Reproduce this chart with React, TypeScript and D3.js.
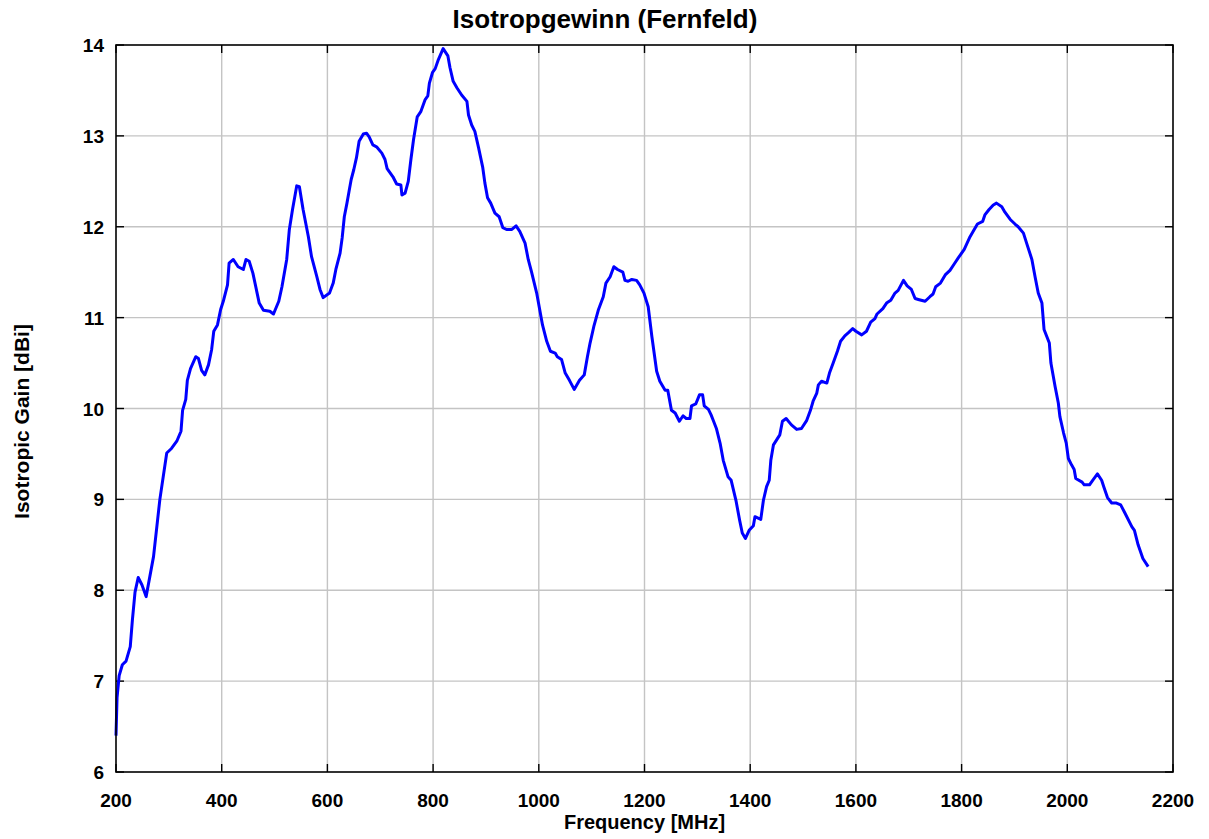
import React from 'react';
import * as d3 from 'd3';

const freqMHz = [
  200, 202, 206, 212, 219, 227, 231, 236, 242, 249, 257, 271, 283, 296, 305, 315, 323, 326, 332, 335,
  341, 351, 356, 362, 368, 375, 381, 385, 392, 398, 403, 411, 414, 422, 431, 441, 446, 452, 459, 471,
  479, 491, 498, 508, 514, 523, 528, 534, 542, 547, 554, 564, 570, 580, 586, 592, 604, 611, 616, 624,
  628, 632, 637, 641, 645, 650, 655, 660, 668, 674, 679, 686, 693, 703, 709, 713, 724, 731, 739, 741,
  747, 753, 758, 763, 770, 777, 785, 790, 793, 799, 804, 810, 819, 828, 832, 838, 845, 854, 864, 867,
  873, 879, 886, 894, 898, 903, 909, 917, 925, 932, 939, 949, 957, 964, 974, 980, 986, 996, 1007, 1015,
  1022, 1031, 1035, 1043, 1050, 1058, 1067, 1077, 1086, 1092, 1097, 1104, 1113, 1122, 1127, 1135, 1142, 1149, 1159, 1163,
  1169, 1176, 1185, 1191, 1199, 1207, 1214, 1223, 1229, 1239, 1244, 1251, 1258, 1266, 1273, 1279, 1286, 1289, 1297, 1304,
  1310, 1313, 1321, 1326, 1330, 1336, 1343, 1349, 1358, 1364, 1373, 1380, 1385, 1391, 1398, 1406, 1409, 1420, 1425, 1431,
  1436, 1439, 1444, 1456, 1461, 1468, 1478, 1488, 1497, 1507, 1514, 1519, 1526, 1529, 1535, 1545, 1550, 1557, 1565, 1571,
  1579, 1587, 1594, 1600, 1611, 1620, 1628, 1636, 1640, 1651, 1658, 1666, 1674, 1680, 1690, 1697, 1705, 1712, 1718, 1731,
  1740, 1746, 1751, 1760, 1769, 1778, 1786, 1794, 1805, 1816, 1822, 1830, 1840, 1844, 1852, 1860, 1866, 1876, 1882, 1892,
  1901, 1907, 1917, 1923, 1933, 1939, 1945, 1952, 1956, 1966, 1969, 1977, 1983, 1986, 1993, 1998, 2002, 2008, 2013, 2016,
  2028, 2032, 2042, 2048, 2057, 2065, 2069, 2076, 2084, 2093, 2101, 2109, 2122, 2127, 2134, 2143, 2153,
];

const gainDbi = [
  6.40, 6.82, 7.06, 7.18, 7.22, 7.38, 7.67, 7.98, 8.14, 8.06, 7.93, 8.37, 9.00, 9.51, 9.56, 9.64, 9.75, 9.98, 10.10, 10.31,
  10.44, 10.57, 10.55, 10.42, 10.37, 10.48, 10.65, 10.85, 10.92, 11.09, 11.18, 11.36, 11.60, 11.64, 11.56, 11.53, 11.64, 11.62, 11.49, 11.16,
  11.08, 11.07, 11.04, 11.18, 11.34, 11.64, 11.97, 12.19, 12.45, 12.44, 12.19, 11.89, 11.67, 11.45, 11.31, 11.22, 11.27, 11.38, 11.53, 11.71,
  11.88, 12.11, 12.26, 12.39, 12.52, 12.63, 12.76, 12.94, 13.02, 13.03, 12.99, 12.90, 12.88, 12.81, 12.74, 12.64, 12.55, 12.47, 12.46, 12.35,
  12.37, 12.50, 12.74, 12.96, 13.21, 13.27, 13.40, 13.44, 13.58, 13.70, 13.74, 13.84, 13.96, 13.88, 13.75, 13.60, 13.53, 13.45, 13.38, 13.23,
  13.12, 13.05, 12.87, 12.65, 12.48, 12.32, 12.26, 12.15, 12.11, 11.99, 11.97, 11.97, 12.01, 11.95, 11.82, 11.64, 11.51, 11.27, 10.92, 10.74,
  10.63, 10.61, 10.57, 10.54, 10.39, 10.31, 10.21, 10.31, 10.37, 10.57, 10.72, 10.90, 11.09, 11.23, 11.38, 11.45, 11.56, 11.53, 11.50, 11.41,
  11.40, 11.42, 11.41, 11.36, 11.27, 11.12, 10.79, 10.41, 10.30, 10.20, 10.20, 9.98, 9.95, 9.86, 9.92, 9.89, 9.89, 10.03, 10.05, 10.15,
  10.15, 10.03, 9.99, 9.93, 9.87, 9.78, 9.62, 9.43, 9.25, 9.21, 8.99, 8.77, 8.63, 8.57, 8.66, 8.71, 8.81, 8.78, 8.99, 9.14,
  9.21, 9.43, 9.60, 9.71, 9.86, 9.89, 9.82, 9.77, 9.78, 9.87, 9.98, 10.08, 10.17, 10.26, 10.30, 10.28, 10.39, 10.50, 10.63, 10.74,
  10.80, 10.84, 10.88, 10.85, 10.81, 10.85, 10.95, 10.99, 11.04, 11.10, 11.16, 11.19, 11.27, 11.30, 11.41, 11.35, 11.31, 11.21, 11.20, 11.18,
  11.23, 11.26, 11.34, 11.38, 11.47, 11.52, 11.59, 11.66, 11.75, 11.89, 11.95, 12.03, 12.06, 12.13, 12.19, 12.24, 12.26, 12.22, 12.16, 12.08,
  12.03, 12.00, 11.93, 11.82, 11.64, 11.45, 11.27, 11.16, 10.87, 10.72, 10.50, 10.24, 10.06, 9.91, 9.73, 9.62, 9.45, 9.38, 9.33, 9.23,
  9.19, 9.16, 9.16, 9.21, 9.28, 9.21, 9.14, 9.02, 8.96, 8.96, 8.94, 8.85, 8.70, 8.66, 8.50, 8.35, 8.26,
];

const xTicks = [200, 400, 600, 800, 1000, 1200, 1400, 1600, 1800, 2000, 2200];
const yTicks = [6, 7, 8, 9, 10, 11, 12, 13, 14];

const title = 'Isotropgewinn (Fernfeld)';
const xLabel = 'Frequency [MHz]';
const yLabel = 'Isotropic Gain [dBi]';

const W = 1209;
const H = 839;
const margin = { top: 45, right: 36, bottom: 67, left: 116 };
const font = '"Liberation Sans", Arial, Helvetica, sans-serif';

export default function App() {
  const x = d3.scaleLinear().domain([200, 2200]).range([margin.left, W - margin.right]);
  const y = d3.scaleLinear().domain([6, 14]).range([H - margin.bottom, margin.top]);

  const pts: [number, number][] = freqMHz.map((f, i) => [f, gainDbi[i]]);
  const line = d3.line<[number, number]>()
    .x(d => x(d[0]))
    .y(d => y(d[1]));

  const x0 = x(200), x1 = x(2200), y0 = y(6), y1 = y(14);
  const tick = 8;

  return (
    <svg width={W} height={H} style={{ position: 'absolute', left: 0, top: 0, background: '#fff' }}
      fontFamily={font} fontWeight="bold">
      {/* grid */}
      <g stroke="#c4c4c4" strokeWidth={1.4}>
        {xTicks.slice(1, -1).map(t => (
          <line key={'gx' + t} x1={x(t)} x2={x(t)} y1={y0} y2={y1} />
        ))}
        {yTicks.slice(1, -1).map(t => (
          <line key={'gy' + t} x1={x0} x2={x1} y1={y(t)} y2={y(t)} />
        ))}
      </g>

      {/* tick marks, inward on all four sides */}
      <g stroke="#000" strokeWidth={1.4}>
        {xTicks.map(t => (
          <g key={'tx' + t}>
            <line x1={x(t)} x2={x(t)} y1={y0} y2={y0 - tick} />
            <line x1={x(t)} x2={x(t)} y1={y1} y2={y1 + tick} />
          </g>
        ))}
        {yTicks.map(t => (
          <g key={'ty' + t}>
            <line x1={x0} x2={x0 + tick} y1={y(t)} y2={y(t)} />
            <line x1={x1} x2={x1 - tick} y1={y(t)} y2={y(t)} />
          </g>
        ))}
      </g>

      <path d={line(pts) ?? ''} fill="none" stroke="#0000ff" strokeWidth={3} strokeLinejoin="round" />

      <rect x={x0} y={y1} width={x1 - x0} height={y0 - y1} fill="none" stroke="#000" strokeWidth={1.6} />

      {/* tick labels */}
      <g fontSize={19} fill="#000">
        {xTicks.map(t => (
          <text key={'lx' + t} x={x(t)} y={y0 + 35} textAnchor="middle">{t}</text>
        ))}
        {yTicks.map(t => (
          <text key={'ly' + t} x={x0 - 12} y={y(t) + 7} textAnchor="end">{t}</text>
        ))}
      </g>

      <text x={605} y={28} textAnchor="middle" fontSize={26}>{title}</text>
      <text x={(x0 + x1) / 2} y={y0 + 57} textAnchor="middle" fontSize={20}>{xLabel}</text>
      <text transform={`translate(29, ${(y0 + y1) / 2 + 13}) rotate(-90)`} textAnchor="middle" fontSize={21}>{yLabel}</text>
    </svg>
  );
}
